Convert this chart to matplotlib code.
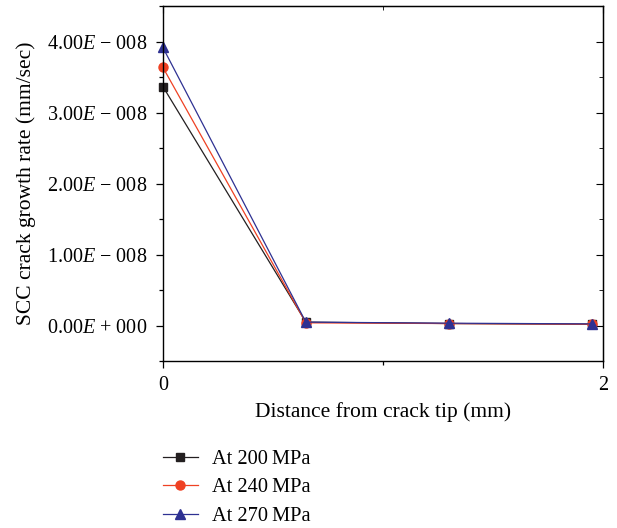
import matplotlib
matplotlib.use('Agg')
import matplotlib.pyplot as plt
from matplotlib.ticker import MultipleLocator, FuncFormatter

plt.rcParams['font.family'] = 'Liberation Serif'
plt.rcParams['mathtext.fontset'] = 'custom'
plt.rcParams['mathtext.rm'] = 'Liberation Serif'
plt.rcParams['mathtext.it'] = 'Liberation Serif:italic'

# distance from crack tip (mm)
distance = [0, 0.65, 1.3, 1.95]
# SCC crack growth rate (mm/sec) at each stress level
rate_200 = [3.37e-8, 0.05e-8, 0.03e-8, 0.02e-8]
rate_240 = [3.64e-8, 0.04e-8, 0.03e-8, 0.02e-8]
rate_270 = [3.92e-8, 0.05e-8, 0.035e-8, 0.025e-8]
labels = ['At 200\u2009MPa', 'At 240\u2009MPa', 'At 270\u2009MPa']

fig = plt.figure(figsize=(6.17, 5.28), dpi=100)
ax = fig.add_axes([0.264, 0.316, 0.713, 0.672])

ax.plot(distance, rate_200, '-s', color='#231f20', lw=0.9, ms=6, label=labels[0], clip_on=False)
ax.plot(distance, rate_240, '-o', color='#ef4123', lw=0.9, ms=6.5, label=labels[1], clip_on=False)
ax.plot(distance, rate_270, '-^', color='#2e3192', lw=0.9, ms=7, label=labels[2], clip_on=False)

ax.set_xlim(0, 2)
ax.set_ylim(-0.5e-8, 4.5e-8)
ax.set_xticks([0, 2])
ax.xaxis.set_minor_locator(MultipleLocator(1))
ax.yaxis.set_major_locator(MultipleLocator(1e-8))
ax.yaxis.set_minor_locator(MultipleLocator(0.5e-8))


def sci(v, pos):
    m = v / 1e-8
    if abs(m) < 1e-9:
        return r'0.00$E$ + 000'
    return r'%.2f$E$ − 008' % m


ax.yaxis.set_major_formatter(FuncFormatter(sci))
ax.tick_params(which='major', direction='out', length=5, width=0.9, labelsize=14.5, pad=6)
ax.tick_params(which='minor', direction='out', length=3, width=0.9)
for s in ax.spines.values():
    s.set_linewidth(1.0)

# inward ticks on the top and right spines
top = ax.secondary_xaxis('top')
top.set_xticks([0, 2])
top.xaxis.set_minor_locator(MultipleLocator(1))
top.tick_params(which='both', direction='in', labeltop=False)
top.tick_params(which='major', length=5)
top.tick_params(which='minor', length=3)
right = ax.secondary_yaxis('right')
right.yaxis.set_major_locator(MultipleLocator(1e-8))
right.yaxis.set_minor_locator(MultipleLocator(0.5e-8))
right.tick_params(which='both', direction='in', labelright=False)
right.tick_params(which='major', length=5)
right.tick_params(which='minor', length=3)

ax.set_xlabel('Distance from crack tip (mm)', fontsize=15.5, labelpad=5)
ax.set_ylabel('SCC crack growth rate (mm/sec)', fontsize=15.5, labelpad=8)

ax.legend(loc='upper left', bbox_to_anchor=(0.251, 0.164), bbox_transform=fig.transFigure,
          frameon=False, fontsize=14.7, handlelength=1.7, labelspacing=0.45,
          handletextpad=0.7, borderaxespad=0)

fig.savefig('out.png', dpi=100)
